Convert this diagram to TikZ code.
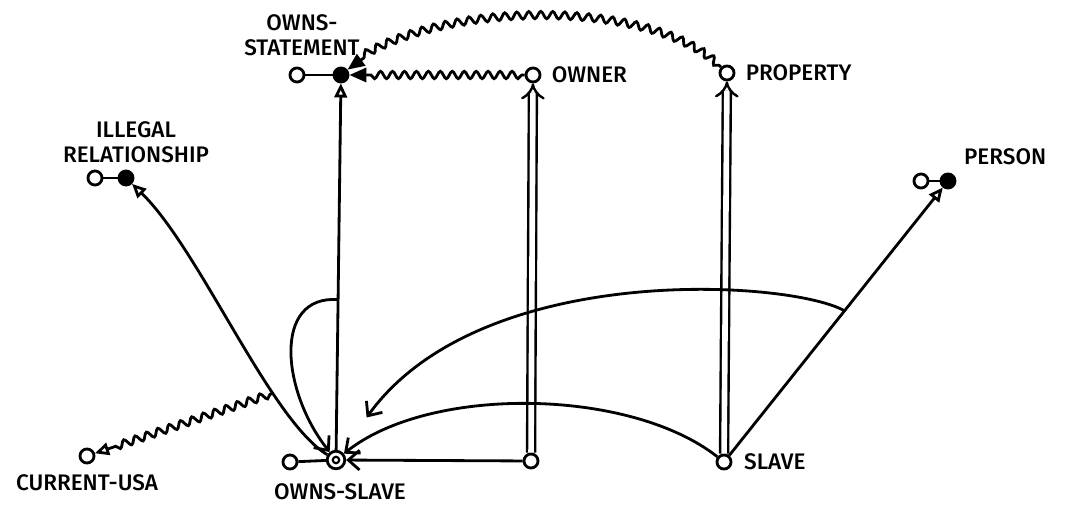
\documentclass[tikz,border=0pt]{standalone}
\usepackage{fontspec}
\setmainfont{Fira Sans}[BoldFont={Fira Sans Medium}]
\usetikzlibrary{arrows.meta, decorations.pathmorphing, calc}

\begin{document}
\begin{tikzpicture}[x=0.025cm, y=-0.025cm, line width=2pt,
  conc/.style={circle, draw, fill=white, inner sep=0pt, minimum size=10pt},
  role/.style={circle, draw, fill=black, inner sep=0pt, minimum size=10pt},
  inst/.style={circle, draw, fill=white, inner sep=0pt, minimum size=12.5pt,
               path picture={\draw[line width=1.5pt]
                 (path picture bounding box.center) circle (2.3pt);}},
  lbl/.style={font=\fontsize{16}{18}\selectfont\bfseries},
  wavy/.style={decorate, decoration={snake, amplitude=2.6pt,
               segment length=8.5pt, pre length=2pt, post length=12pt}},
  isa/.style={-{Triangle[open, length=10pt, width=9pt]}},
  holds/.style={-{Triangle[length=12pt, width=10pt]}},
  into/.style={-{Straight Barb[length=8pt, width=14pt]}},
  dbl/.style={double, double distance=4pt, line width=1.7pt,
              -{Implies[length=6pt, width=12pt]}}
]
  \useasboundingbox (0,0) rectangle (1068,510);

  % top row
  \node[conc] (ostmtarg) at (297,75)  {};
  \node[role] (ostmt)    at (341,75)  {};
  \node[conc, label={[lbl, label distance=3pt]right:OWNER}]    (owner) at (533,75) {};
  \node[conc, label={[lbl, label distance=3pt]right:PROPERTY}] (prop)  at (727,73) {};
  \node[lbl, align=center] (ostmtlbl) at (302,35) {OWNS-\\STATEMENT};

  % middle row
  \node[conc] (illegalarg) at (95,178)  {};
  \node[role] (illegal)    at (126,178) {};
  \node[lbl, align=center] (illegallbl) at (136,142) {ILLEGAL\\RELATIONSHIP};
  \node[conc] (personarg)  at (921,181) {};
  \node[role] (person)     at (948,181) {};
  \node[lbl, anchor=west] (personlbl) at (958,157) {PERSON};

  % bottom row
  \node[conc, label={[lbl, label distance=3pt]below:CURRENT-USA}] (usa) at (87,456) {};
  \node[conc] (oslavearg) at (290,462) {};
  \node[inst] (oslave)    at (336,460) {};
  \node[lbl] (oslavelbl)  at (340,492) {OWNS-SLAVE};
  \node[conc] (owner2) at (531,461) {};
  \node[conc, label={[lbl, label distance=4pt]right:SLAVE}] (slave) at (724,462) {};

  % argument stubs
  \draw (ostmtarg) -- (ostmt);
  \draw (illegalarg) -- (illegal);
  \draw (personarg) -- (person);
  \draw (oslavearg) -- (oslave);

  % wavy links into owns-statement
  \draw[wavy, holds] (owner) -- (ostmt);
  \draw[wavy, holds] (prop) .. controls (650,-2) and (430,2) .. (ostmt);

  % owns-slave is an owns-statement
  \draw[isa] (oslave) -- coordinate[pos=0.41] (loopstart) (ostmt);
  \draw[into] (loopstart) .. controls (272,295) and (282,392) .. (oslave);

  % role links
  \draw[dbl] (owner2) -- (owner);
  \draw[dbl] (slave) -- (prop);
  \draw[into] (owner2) -- (oslave);
  \draw[into] (slave) .. controls (630,388) and (430,385) .. (oslave);
  \draw[isa] (slave) -- coordinate[pos=0.54] (tap) (person);
  \draw[into, shorten >=30pt] (tap) .. controls (790,280) and (480,260) .. (oslave);

  % illegal relationship, with respect to current-usa
  \draw[isa] (oslave) .. controls (270,420) and (200,250) .. coordinate[pos=0.3] (ctx) (illegal);
  \draw[wavy, isa] (ctx) -- (usa);
\end{tikzpicture}
\end{document}
